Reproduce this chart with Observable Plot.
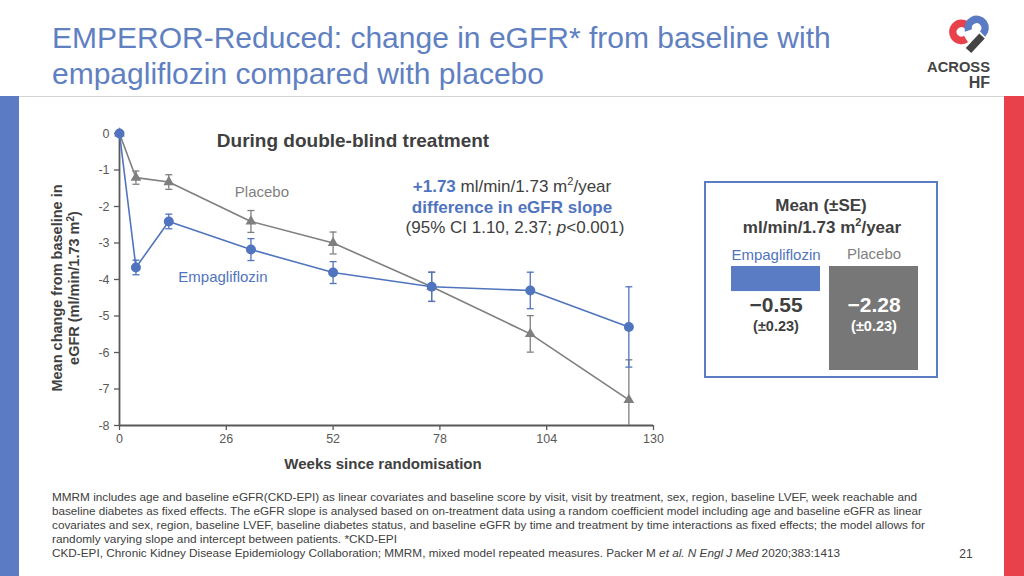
<!DOCTYPE html>
<html><head><meta charset="utf-8">
<script src="https://cdn.jsdelivr.net/npm/d3@7"></script>
<script src="https://cdn.jsdelivr.net/npm/@observablehq/plot@0.6"></script>
<style>
html,body{margin:0;padding:0;background:#fff;}
#page{position:relative;width:1024px;height:576px;overflow:hidden;font-family:"Liberation Sans",Arial,sans-serif;}
#page > svg, #page > figure{position:absolute;margin:0;}
</style></head><body><div id="page"></div>
<script>
// ---- data ----
const weeks = [0, 4, 12, 32, 52, 76, 100, 124];
const empaMean = [0, -3.67, -2.41, -3.18, -3.81, -4.2, -4.3, -5.3];
const empaSE = [0, 0.2, 0.2, 0.3, 0.3, 0.4, 0.5, 1.1];
const placeboMean = [0, -1.21, -1.33, -2.41, -3.0, -4.2, -5.49, -7.3];
const placeboSE = [0, 0.18, 0.2, 0.3, 0.3, 0.4, 0.5, 1.1];
const xTicks = [0, 26, 52, 78, 104, 130];
const yTicks = [0, -1, -2, -3, -4, -5, -6, -7, -8];
const slopeGroups = ["Empagliflozin", "Placebo"];
const slopeMean = [-0.55, -2.28];
const slopeSE = [0.23, 0.23];

const BLUE = "#5074be", GRAY = "#7f7f7f", DARK = "#404040";
const FONT = "'Liberation Sans', Arial, sans-serif";
const page = document.getElementById("page");

const rows = g => weeks.map((w, i) => ({
  week: w,
  mean: g === "Empagliflozin" ? empaMean[i] : placeboMean[i],
  se: g === "Empagliflozin" ? empaSE[i] : placeboSE[i]
}));
const capSymbol = {draw(ctx) { ctx.moveTo(-3.5, 0); ctx.lineTo(3.5, 0); }};

function series(g, symbol, r) {
  const all = rows(g), d = all.filter(x => x.se > 0);
  const c = g === "Empagliflozin" ? BLUE : GRAY;
  return [
    Plot.ruleX(d, {x: "week", y1: x => x.mean - x.se, y2: x => x.mean + x.se, stroke: c, strokeWidth: 1.3, clip: true}),
    Plot.dot(d, {x: "week", y: x => x.mean + x.se, symbol: capSymbol, stroke: c, strokeWidth: 1.3, fill: "none", clip: true}),
    Plot.dot(d, {x: "week", y: x => x.mean - x.se, symbol: capSymbol, stroke: c, strokeWidth: 1.3, fill: "none", clip: true}),
    Plot.line(all, {x: "week", y: "mean", stroke: c, strokeWidth: 1.6}),
    Plot.dot(all, {x: "week", y: "mean", symbol, r, fill: c, stroke: "none"})
  ];
}

const main = Plot.plot({
  width: 640, height: 360,
  marginLeft: 79, marginRight: 27, marginTop: 13, marginBottom: 55,
  style: {fontFamily: FONT, fontSize: "12.5px", background: "transparent", overflow: "visible"},
  x: {domain: [0, 130]},
  y: {domain: [-8, 0]},
  marks: [
    Plot.axisY(yTicks, {tickSize: 5, tickPadding: 5, tickFormat: d => String(d), label: null, color: "#595959", strokeWidth: 1.3}),
    Plot.axisX(xTicks, {tickSize: 5, tickPadding: 4, tickFormat: d => String(d), label: null, color: "#595959", strokeWidth: 1.3}),
    Plot.ruleX([0], {stroke: "#595959", strokeWidth: 1.8}),
    Plot.ruleY([-8], {stroke: "#595959", strokeWidth: 1.8}),
    ...series("Placebo", "triangle", 4),
    ...series("Empagliflozin", "circle", 5),
    Plot.text(rows("Placebo").filter(d => d.week === 32), {x: "week", y: "mean", text: () => "Placebo", dx: 11, dy: -29, fill: GRAY, fontSize: 15}),
    Plot.text(rows("Empagliflozin").filter(d => d.week === 32), {x: "week", y: "mean", text: () => "Empagliflozin", dx: -28, dy: 28, fill: BLUE, fontSize: 15})
  ]
});
main.style.left = "40px"; main.style.top = "120px";
page.appendChild(main);

// ---- inset: annual eGFR slope ----
const slopes = slopeGroups.map((g, i) => ({group: g, mean: slopeMean[i], se: slopeSE[i]}));
const fmt = v => (v < 0 ? "\u2212" : "") + Math.abs(v).toFixed(2);
const isE = d => d.group === "Empagliflozin";
const txt = {x: "group", frameAnchor: "top", lineAnchor: "middle"};
const inset = Plot.plot({
  width: 234, height: 197,
  marginTop: 85, marginBottom: 8, marginLeft: 26, marginRight: 19,
  style: {fontFamily: FONT, background: "transparent", overflow: "visible"},
  x: {domain: slopeGroups, paddingInner: 0.0909, paddingOuter: 0, axis: null},
  y: {domain: [d3.min(slopeMean), 0], axis: null},
  marks: [
    Plot.barY(slopes.filter(isE), {x: "group", y: "mean", fill: "#5a7cc4"}),
    Plot.barY(slopes.filter(d => !isE(d)), {x: "group", y: "mean", fill: "#777777"}),
    Plot.text(slopes.filter(isE), {...txt, dy: -11, text: "group", fill: BLUE, fontSize: 15}),
    Plot.text(slopes.filter(d => !isE(d)), {...txt, dy: -12, text: "group", fill: GRAY, fontSize: 15}),
    Plot.text(slopes.filter(isE), {...txt, dy: 39, text: d => fmt(d.mean), fill: DARK, fontSize: 21, fontWeight: "bold"}),
    Plot.text(slopes.filter(d => !isE(d)), {...txt, dy: 39, text: d => fmt(d.mean), fill: "#ffffff", fontSize: 21, fontWeight: "bold"}),
    Plot.text(slopes.filter(isE), {...txt, dy: 60, text: d => "(\u00b1" + d.se.toFixed(2) + ")", fill: DARK, fontSize: 14.5, fontWeight: "bold"}),
    Plot.text(slopes.filter(d => !isE(d)), {...txt, dy: 60, text: d => "(\u00b1" + d.se.toFixed(2) + ")", fill: "#ffffff", fontSize: 14.5, fontWeight: "bold"})
  ]
});
inset.style.left = "704px"; inset.style.top = "181px";
page.appendChild(inset);

// ---- static slide text and decoration ----
const foot = [
  "MMRM includes age and baseline eGFR(CKD-EPI) as linear covariates and baseline score by visit, visit by treatment, sex, region, baseline LVEF, week reachable and",
  "baseline diabetes as fixed effects. The eGFR slope is analysed based on on-treatment data using a random coefficient model including age and baseline eGFR as linear",
  "covariates and sex, region, baseline LVEF, baseline diabetes status, and baseline eGFR by time and treatment by time interactions as fixed effects; the model allows for",
  "randomly varying slope and intercept between patients. *CKD-EPI"
];
const footLens = [865, 870, 873, 345];
const overlay = `
<svg width="1024" height="576" style="left:0;top:0;pointer-events:none" font-family="${FONT}">
  <rect x="0" y="96" width="19" height="480" fill="#5b7bc4"/>
  <rect x="1004" y="96" width="20" height="480" fill="#e8414b"/>
  <line x1="19" x2="1004" y1="96.5" y2="96.5" stroke="#d3d3d3" stroke-width="1"/>
  <text x="52" y="48" font-size="30" fill="#6080c2">EMPEROR-Reduced: change in eGFR* from baseline with</text>
  <text x="52" y="84" font-size="30" fill="#6080c2">empagliflozin compared with placebo</text>
  <g fill="none" stroke-width="7.5">
    <path d="M967 25.5 A8.5 8.5 0 1 0 966 39" stroke="#e8414b"/>
    <path d="M968.5 30.5 A8.5 8.5 0 1 1 982.5 34" stroke="#5b7bc4"/>
    <path d="M982 36 L968.5 50.5" stroke="#444444"/>
  </g>
  <text x="927" y="72" font-size="15" font-weight="bold" fill="#444" textLength="63" lengthAdjust="spacingAndGlyphs">ACROSS</text>
  <text x="990" y="88" font-size="16" font-weight="bold" fill="#444" text-anchor="end">HF</text>
  <text x="353" y="147" font-size="19" font-weight="bold" fill="${DARK}" text-anchor="middle">During double-blind treatment</text>
  <text x="512" y="192" font-size="17" fill="${DARK}" text-anchor="middle"><tspan font-weight="bold" fill="${BLUE}">+1.73</tspan> ml/min/1.73 m<tspan font-size="11" dy="-7">2</tspan><tspan dy="7">/year</tspan></text>
  <text x="512" y="213" font-size="17" font-weight="bold" fill="${BLUE}" text-anchor="middle">difference in eGFR slope</text>
  <text x="515" y="233" font-size="17" fill="${DARK}" text-anchor="middle">(95% CI 1.10, 2.37; <tspan font-style="italic">p</tspan>&lt;0.001)</text>
  <g transform="translate(62,288) rotate(-90)" font-size="14.5" font-weight="bold" fill="${DARK}" text-anchor="middle">
    <text x="0" y="0">Mean change from baseline in</text>
    <text x="0" y="17">eGFR (ml/min/1.73 m<tspan font-size="10" dy="-5">2</tspan><tspan dy="5">)</tspan></text>
  </g>
  <text x="383" y="469" font-size="15" font-weight="bold" fill="${DARK}" text-anchor="middle">Weeks since randomisation</text>
  <rect x="705" y="182" width="232" height="195" fill="none" stroke="#5b7bc4" stroke-width="2"/>
  <text x="821" y="211" font-size="17" font-weight="bold" fill="${DARK}" text-anchor="middle">Mean (\u00b1SE)</text>
  <text x="822" y="233" font-size="17" font-weight="bold" fill="${DARK}" text-anchor="middle">ml/min/1.73 m<tspan font-size="11" dy="-7">2</tspan><tspan dy="7">/year</tspan></text>
  ${foot.map((t, i) => `<text x="52" y="${501 + i * 14}" font-size="11" fill="${DARK}" textLength="${footLens[i]}" lengthAdjust="spacingAndGlyphs">${t}</text>`).join("")}
  <text x="52" y="557" font-size="11" fill="${DARK}" textLength="788" lengthAdjust="spacingAndGlyphs">CKD-EPI, Chronic Kidney Disease Epidemiology Collaboration; MMRM, mixed model repeated measures. Packer M <tspan font-style="italic">et al. N Engl J Med</tspan> 2020;383:1413</text>
  <text x="966" y="558" font-size="12" fill="${DARK}" text-anchor="middle">21</text>
</svg>`;
page.insertAdjacentHTML("beforeend", overlay);
</script>
</body></html>
